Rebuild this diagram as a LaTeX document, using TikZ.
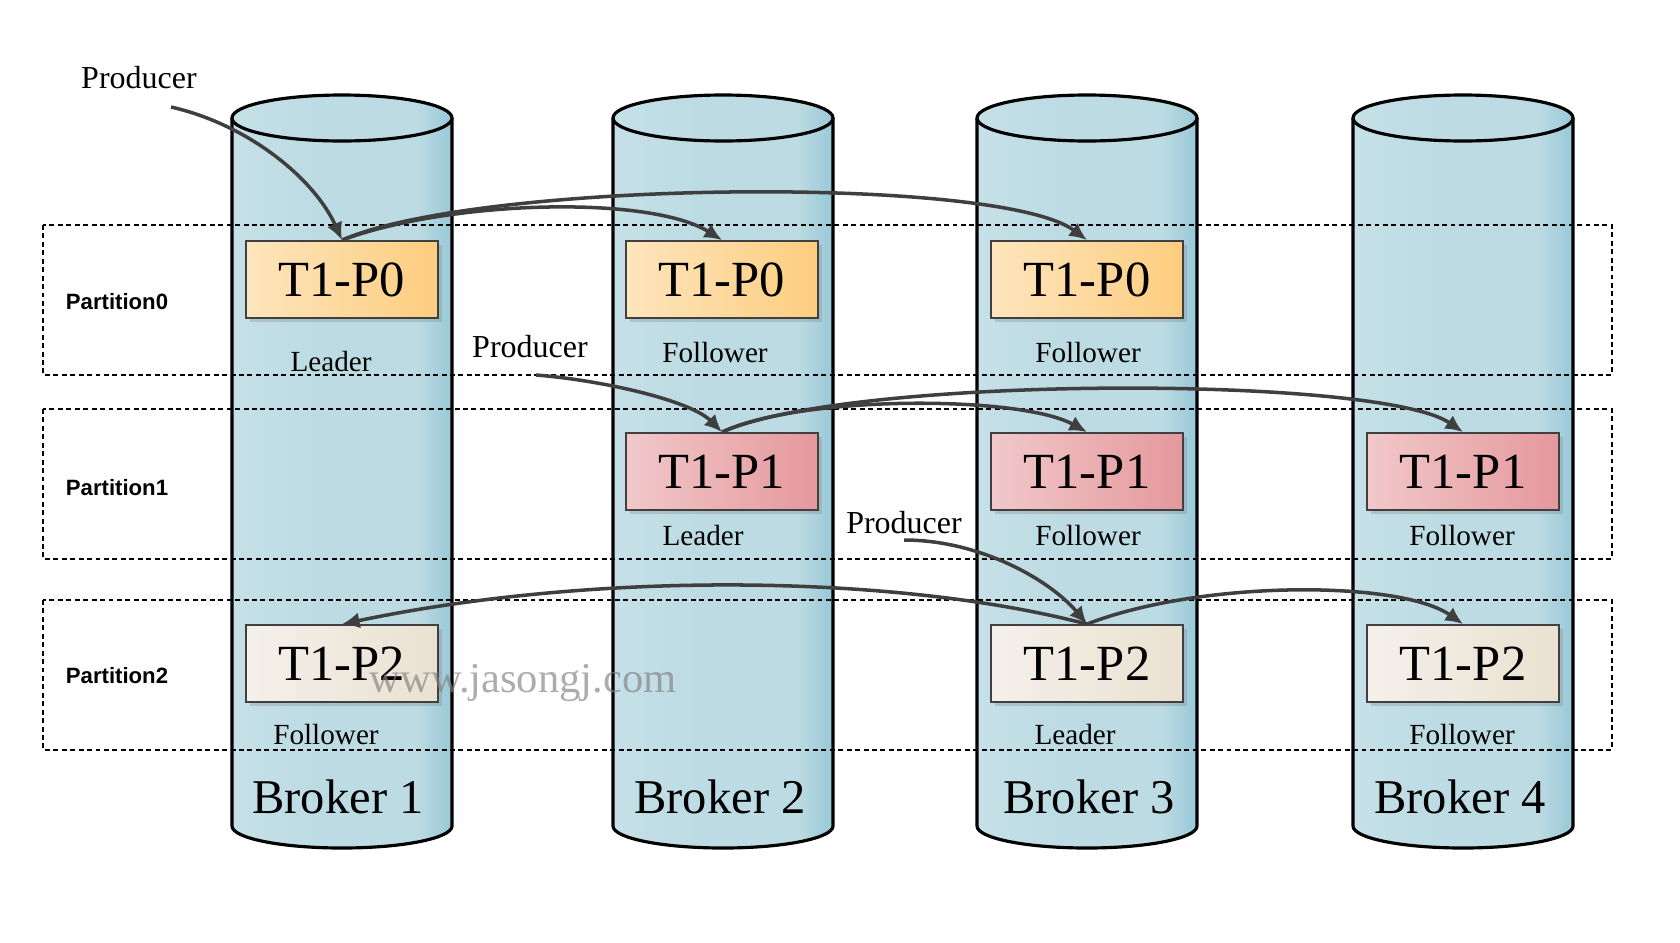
\documentclass[tikz,border=0pt]{standalone}
\usepackage{fontspec}
\setmainfont{Liberation Serif}
\newfontfamily\partfont{Liberation Sans}
\usepackage{tikz}
\usetikzlibrary{positioning,arrows.meta,shadows}
\usepackage{xcolor}
\definecolor{cylL}{HTML}{C6E0E7}
\definecolor{cylM}{HTML}{BCDBE3}
\definecolor{cylR}{HTML}{98C8D7}
\definecolor{pzeroL}{HTML}{FDE5BD}
\definecolor{pzeroR}{HTML}{FDCD7F}
\definecolor{poneL}{HTML}{F1C8CA}
\definecolor{poneR}{HTML}{E5989D}
\definecolor{ptwoL}{HTML}{F4F0EA}
\definecolor{ptwoR}{HTML}{EAE1D1}
\definecolor{arrowgray}{HTML}{3F3F3F}
\pgfdeclarehorizontalshading{brokershade}{100bp}{color(0bp)=(cylL); color(25bp)=(cylL); color(45bp)=(cylM); color(67bp)=(cylM); color(75bp)=(cylR); color(100bp)=(cylR)}

\begin{document}
\begin{tikzpicture}[x=0.01cm,y=-0.01cm,
  cyl/.style={shade,shading=brokershade},
  cylline/.style={black,line width=0.9pt},
  partrow/.style={black,line width=0.5pt,dash pattern=on 1.4pt off 1pt},
  partlab/.style={font=\partfont\bfseries\fontsize{6.3}{7.5}\selectfont},
  tbox/.style={draw=black!75,line width=0.5pt,minimum width=1.92cm,minimum height=0.77cm,inner sep=0pt,
    font=\fontsize{14.4}{16}\selectfont,drop shadow={opacity=0.3,shadow xshift=1.2pt,shadow yshift=-1.2pt}},
  pzero/.style={tbox,left color=pzeroL,right color=pzeroR},
  pone/.style={tbox,left color=poneL,right color=poneR},
  ptwo/.style={tbox,left color=ptwoL,right color=ptwoR},
  role/.style={font=\fontsize{8.3}{10}\selectfont},
  prod/.style={font=\fontsize{9.1}{11}\selectfont},
  brokerlab/.style={font=\fontsize{13.8}{16}\selectfont},
  repl/.style={arrowgray,line width=1pt,-{Latex[length=5pt,width=4.6pt]}}]
\useasboundingbox (0,0) rectangle (1680,942);

% brokers
\shade[cyl] (232,118) -- (232,826) arc[start angle=180,end angle=0,x radius=110,y radius=22] -- (452,118) -- cycle;
\draw[cylline] (232,118) -- (232,826) arc[start angle=180,end angle=0,x radius=110,y radius=22] -- (452,118);
\draw[cylline,cyl] (342,118) ellipse [x radius=110,y radius=23];

\shade[cyl] (613,118) -- (613,826) arc[start angle=180,end angle=0,x radius=110,y radius=22] -- (833,118) -- cycle;
\draw[cylline] (613,118) -- (613,826) arc[start angle=180,end angle=0,x radius=110,y radius=22] -- (833,118);
\draw[cylline,cyl] (723,118) ellipse [x radius=110,y radius=23];

\shade[cyl] (977,118) -- (977,826) arc[start angle=180,end angle=0,x radius=110,y radius=22] -- (1197,118) -- cycle;
\draw[cylline] (977,118) -- (977,826) arc[start angle=180,end angle=0,x radius=110,y radius=22] -- (1197,118);
\draw[cylline,cyl] (1087,118) ellipse [x radius=110,y radius=23];

\shade[cyl] (1353,118) -- (1353,826) arc[start angle=180,end angle=0,x radius=110,y radius=22] -- (1573,118) -- cycle;
\draw[cylline] (1353,118) -- (1353,826) arc[start angle=180,end angle=0,x radius=110,y radius=22] -- (1573,118);
\draw[cylline,cyl] (1463,118) ellipse [x radius=110,y radius=23];

\node[brokerlab] (bro1) at (338,797) {Broker 1};
\node[brokerlab] (bro2) at (720,797) {Broker 2};
\node[brokerlab] (bro3) at (1089,797) {Broker 3};
\node[brokerlab] (bro4) at (1460,797) {Broker 4};

% partition rows
\draw[partrow] (43,225) rectangle (1612,375);
\draw[partrow] (43,409) rectangle (1612,559);
\draw[partrow] (43,600) rectangle (1612,750);
\node[partlab] (part0) at (117,302) {Partition0};
\node[partlab] (part1) at (117,488) {Partition1};
\node[partlab] (part2) at (117,676) {Partition2};

% partitions
\node[pzero] (b1p0) at (342,279.5) {T1-P0};
\node[pzero] (b2p0) at (722,279.5) {T1-P0};
\node[pzero] (b3p0) at (1087,279.5) {T1-P0};
\node[pone] (b2p1) at (722,471.5) {T1-P1};
\node[pone] (b3p1) at (1087,471.5) {T1-P1};
\node[pone] (b4p1) at (1463,471.5) {T1-P1};
\node[ptwo] (b1p2) at (342,663.5) {T1-P2};
\node[ptwo] (b3p2) at (1087,663.5) {T1-P2};
\node[ptwo] (b4p2) at (1463,663.5) {T1-P2};

\node[role] (r10) at (331,362) {Leader};
\node[role] (r20) at (715,353) {Follower};
\node[role] (r30) at (1088,353) {Follower};
\node[role] (r21) at (703,536) {Leader};
\node[role] (r31) at (1088,536) {Follower};
\node[role] (r41) at (1462,536) {Follower};
\node[role] (r12) at (326,734) {Follower};
\node[role] (r32) at (1075,734) {Leader};
\node[role] (r42) at (1462,734) {Follower};

\node[font=\fontsize{12.1}{14}\selectfont,text=gray,opacity=0.65] (wm) at (523,683) {www.jasongj.com};

% producers
\node[prod] (prodA) at (139,78) {Producer};
\node[prod] (prodB) at (530,347) {Producer};
\node[prod] (prodC) at (904,523) {Producer};
\coordinate (srcA) at (171,107);
\coordinate (srcB) at (536,375);
\coordinate (srcC) at (904,540);

\draw[repl] (srcA) .. controls (250,125) and (315,180) .. (b1p0.north);
\draw[repl] (srcB) .. controls (600,380) and (690,400) .. (b2p1.north);
\draw[repl] (srcC) .. controls (980,540) and (1050,580) .. (b3p2.north);

% replication
\draw[repl] (b1p0.north) .. controls (450,200) and (650,195) .. (b2p0.north);
\draw[repl] (b1p0.north) .. controls (480,180) and (1000,175) .. (b3p0.north);
\draw[repl] (b2p1.north) .. controls (800,395) and (1020,395) .. (b3p1.north);
\draw[repl] (b2p1.north) .. controls (850,375) and (1380,375) .. (b4p1.north);
\draw[repl] (b3p2.north) .. controls (900,575) and (600,570) .. (b1p2.north);
\draw[repl] (b3p2.north) .. controls (1200,580) and (1400,580) .. (b4p2.north);
\end{tikzpicture}
\end{document}
